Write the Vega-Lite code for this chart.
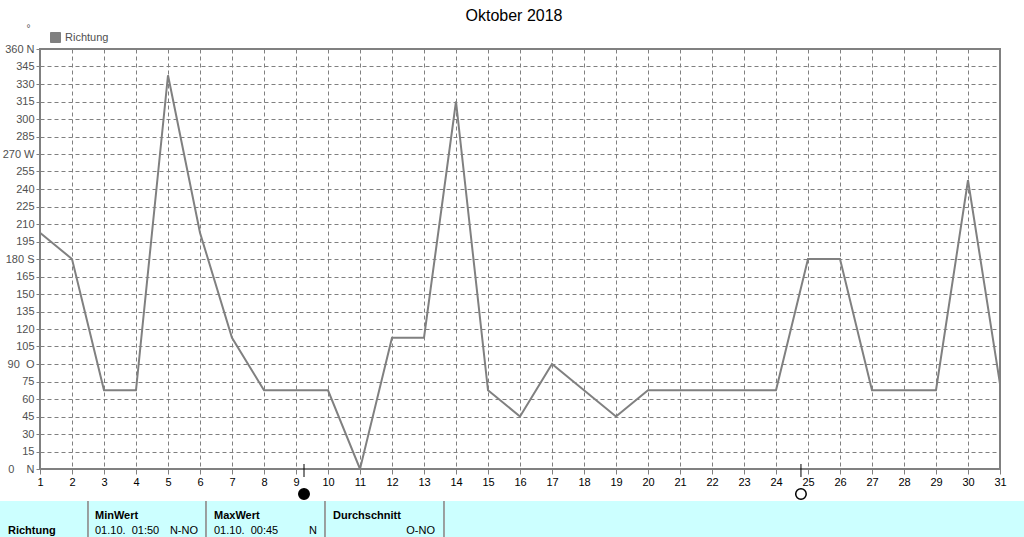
{
  "$schema": "https://vega.github.io/schema/vega-lite/v6.json",
  "background": "white",
  "padding": {"top": 8, "left": 0, "right": 0, "bottom": 0},
  "title": {"text": "Oktober 2018", "fontSize": 16, "font": "Liberation Sans", "fontWeight": "normal", "color": "black", "anchor": "middle", "offset": -2},
  "spacing": -4,
  "align": "none",
  "datasets": {
    "richtung": [
      {"day": 1, "deg": 202.5}, {"day": 2, "deg": 180}, {"day": 3, "deg": 67.5}, {"day": 4, "deg": 67.5},
      {"day": 5, "deg": 337.5}, {"day": 6, "deg": 202.5}, {"day": 7, "deg": 112.5}, {"day": 8, "deg": 67.5},
      {"day": 9, "deg": 67.5}, {"day": 10, "deg": 67.5}, {"day": 11, "deg": 0}, {"day": 12, "deg": 112.5},
      {"day": 13, "deg": 112.5}, {"day": 14, "deg": 315}, {"day": 15, "deg": 67.5}, {"day": 16, "deg": 45},
      {"day": 17, "deg": 90}, {"day": 18, "deg": 67.5}, {"day": 19, "deg": 45}, {"day": 20, "deg": 67.5},
      {"day": 21, "deg": 67.5}, {"day": 22, "deg": 67.5}, {"day": 23, "deg": 67.5}, {"day": 24, "deg": 67.5},
      {"day": 25, "deg": 180}, {"day": 26, "deg": 180}, {"day": 27, "deg": 67.5}, {"day": 28, "deg": 67.5},
      {"day": 29, "deg": 67.5}, {"day": 30, "deg": 247.5}, {"day": 31, "deg": 73}
    ],
    "mond": [{"day": 9.25, "phase": "Neumond"}, {"day": 24.78, "phase": "Vollmond"}],
    "tabelle": [
      {"col": "Richtung", "kind": "label", "row": "unten", "text": "Richtung"},
      {"col": "MinWert", "kind": "header", "row": "oben", "text": "MinWert"},
      {"col": "MinWert", "kind": "time", "row": "unten", "text": "01.10.\u00a0\u00a001:50"},
      {"col": "MinWert", "kind": "dir", "row": "unten", "text": "N-NO"},
      {"col": "MaxWert", "kind": "header", "row": "oben", "text": "MaxWert"},
      {"col": "MaxWert", "kind": "time", "row": "unten", "text": "01.10.\u00a0\u00a000:45"},
      {"col": "MaxWert", "kind": "dir", "row": "unten", "text": "N"},
      {"col": "Durchschnitt", "kind": "header", "row": "oben", "text": "Durchschnitt"},
      {"col": "Durchschnitt", "kind": "dir", "row": "unten", "text": "O-NO"}
    ]
  },
  "vconcat": [
    {
      "width": 960,
      "height": 420,
      "view": {"stroke": "#808080", "strokeWidth": 2},
      "layer": [
        {
          "data": {"name": "richtung"},
          "mark": {"type": "line", "strokeWidth": 2, "clip": true},
          "encoding": {
            "x": {
              "field": "day", "type": "quantitative",
              "scale": {"domain": [1, 31], "nice": false, "zero": false},
              "axis": {
                "values": [1,2,3,4,5,6,7,8,9,10,11,12,13,14,15,16,17,18,19,20,21,22,23,24,25,26,27,28,29,30,31],
                "tickCount": 100,
                "format": "d", "title": null, "grid": true, "gridColor": "#808080", "gridDash": [4, 3], "gridOpacity": 1, "gridWidth": 1,
                "domain": false, "ticks": true, "tickColor": "#808080", "tickSize": 5, "tickWidth": 1,
                "labelFont": "Liberation Sans", "labelFontSize": 11, "labelColor": "black", "labelPadding": 2,
                "labelFlush": false, "labelOverlap": false
              }
            },
            "y": {
              "field": "deg", "type": "quantitative",
              "scale": {"domain": [0, 360], "nice": false, "zero": true},
              "axis": {
                "values": [0,15,30,45,60,75,90,105,120,135,150,165,180,195,210,225,240,255,270,285,300,315,330,345,360],
                "tickCount": 100,
                "labelExpr": "datum.value == 360 ? '360 N' : datum.value == 270 ? '\u00a0270 W' : datum.value == 180 ? '180 S' : datum.value == 90 ? '90\u00a0\u00a0O' : datum.value == 0 ? '0\u00a0\u00a0\u00a0\u00a0N' : datum.label",
                "grid": true, "gridColor": "#808080", "gridDash": [4, 3], "gridOpacity": 1, "gridWidth": 1,
                "domain": false, "ticks": true, "tickColor": "#808080", "tickSize": 4, "tickWidth": 1,
                "labelFont": "Liberation Sans", "labelFontSize": 11, "labelColor": "#505050", "labelPadding": 2,
                "labelFlush": false, "labelOverlap": false,
                "title": "°", "titleAngle": 0, "titleX": -12, "titleY": -16, "titleFontSize": 10, "titleFontWeight": "normal", "titleColor": "#505050", "titleFont": "Liberation Sans"
              }
            },
            "color": {
              "datum": "Richtung", "type": "nominal",
              "scale": {"range": ["#808080"]},
              "legend": {
                "orient": "none", "legendX": 10, "legendY": -17, "title": null, "padding": 0,
                "symbolType": "square", "symbolSize": 100, "symbolFillColor": "#808080", "symbolStrokeColor": "black", "symbolStrokeWidth": 1,
                "labelFont": "Liberation Sans", "labelFontSize": 11, "labelColor": "#505050", "labelOffset": 4,
                "encode": {"symbols": {"update": {"fill": {"value": "#808080"}, "stroke": {"value": "black"}, "strokeWidth": {"value": 1}}}}
              }
            }
          }
        },
        {
          "data": {"name": "mond"},
          "mark": {"type": "tick", "orient": "vertical", "size": 13, "thickness": 1, "color": "black", "opacity": 1, "yOffset": 1.5},
          "encoding": {
            "x": {"field": "day", "type": "quantitative"},
            "y": {"datum": 0, "type": "quantitative"}
          }
        },
        {
          "data": {"name": "mond"},
          "mark": {"type": "point", "shape": "circle", "size": 110, "filled": true, "stroke": "black", "strokeWidth": 1.5, "opacity": 1, "yOffset": 25},
          "encoding": {
            "x": {"field": "day", "type": "quantitative"},
            "y": {"datum": 0, "type": "quantitative"},
            "fill": {"field": "phase", "type": "nominal", "scale": {"domain": ["Neumond", "Vollmond"], "range": ["black", "white"]}, "legend": null}
          }
        }
      ]
    },
    {
      "spacing": 0,
      "hconcat": [
        {
          "width": 48, "height": 37,
          "view": {"stroke": null},
          "layer": [
            {"data": {"values": [{}]}, "mark": {"type": "rect", "color": "#ccffff", "opacity": 1},
             "encoding": {
               "x": {"datum": 0, "type": "quantitative", "scale": {"domain": [0, 1], "range": [-40, 48]}, "axis": null},
               "x2": {"datum": 1}
             }},
            {"data": {"values": [{}]}, "mark": {"type": "rule", "color": "#808080", "strokeWidth": 1.5},
             "encoding": {"x": {"datum": 1, "type": "quantitative"}}},
            {"data": {"name": "tabelle"}, "transform": [{"filter": "datum.col == 'Richtung'"}],
             "mark": {"type": "text", "align": "left", "dx": 8, "font": "Liberation Sans", "fontSize": 11, "fontWeight": "bold", "color": "black"},
             "encoding": {
               "x": {"datum": 0, "type": "quantitative"},
               "y": {"field": "row", "type": "ordinal", "scale": {"type": "point", "domain": ["oben", "unten"], "range": [15, 30], "padding": 0}, "axis": null},
               "text": {"field": "text"}
             }}
          ]
        },
        {
          "width": 117, "height": 37,
          "view": {"fill": "#ccffff", "stroke": null},
          "layer": [
            {"data": {"values": [{}]}, "mark": {"type": "rule", "color": "#808080", "strokeWidth": 1.5},
             "encoding": {"x": {"datum": 1, "type": "quantitative", "scale": {"domain": [0, 1]}, "axis": null}}},
            {"data": {"name": "tabelle"}, "transform": [{"filter": "datum.col == 'MinWert' && datum.kind == 'header'"}],
             "mark": {"type": "text", "align": "left", "dx": 6, "font": "Liberation Sans", "fontSize": 11, "fontWeight": "bold", "color": "black"},
             "encoding": {
               "x": {"datum": 0, "type": "quantitative", "scale": {"domain": [0, 1]}, "axis": null},
               "y": {"field": "row", "type": "ordinal", "scale": {"type": "point", "domain": ["oben", "unten"], "range": [15, 30], "padding": 0}, "axis": null},
               "text": {"field": "text"}
             }},
            {"data": {"name": "tabelle"}, "transform": [{"filter": "datum.col == 'MinWert' && datum.kind == 'time'"}],
             "mark": {"type": "text", "align": "left", "dx": 6, "font": "Liberation Sans", "fontSize": 11, "color": "black"},
             "encoding": {
               "x": {"datum": 0, "type": "quantitative", "scale": {"domain": [0, 1]}, "axis": null},
               "y": {"field": "row", "type": "ordinal", "scale": {"type": "point", "domain": ["oben", "unten"], "range": [15, 30], "padding": 0}, "axis": null},
               "text": {"field": "text"}
             }},
            {"data": {"name": "tabelle"}, "transform": [{"filter": "datum.col == 'MinWert' && datum.kind == 'dir'"}],
             "mark": {"type": "text", "align": "right", "dx": -8, "font": "Liberation Sans", "fontSize": 11, "color": "black"},
             "encoding": {
               "x": {"datum": 1, "type": "quantitative", "scale": {"domain": [0, 1]}, "axis": null},
               "y": {"field": "row", "type": "ordinal", "scale": {"type": "point", "domain": ["oben", "unten"], "range": [15, 30], "padding": 0}, "axis": null},
               "text": {"field": "text"}
             }}
          ]
        },
        {
          "width": 118, "height": 37,
          "view": {"fill": "#ccffff", "stroke": null},
          "layer": [
            {"data": {"values": [{}]}, "mark": {"type": "rule", "color": "#808080", "strokeWidth": 1.5},
             "encoding": {"x": {"datum": 1, "type": "quantitative", "scale": {"domain": [0, 1]}, "axis": null}}},
            {"data": {"name": "tabelle"}, "transform": [{"filter": "datum.col == 'MaxWert' && datum.kind == 'header'"}],
             "mark": {"type": "text", "align": "left", "dx": 7, "font": "Liberation Sans", "fontSize": 11, "fontWeight": "bold", "color": "black"},
             "encoding": {
               "x": {"datum": 0, "type": "quantitative", "scale": {"domain": [0, 1]}, "axis": null},
               "y": {"field": "row", "type": "ordinal", "scale": {"type": "point", "domain": ["oben", "unten"], "range": [15, 30], "padding": 0}, "axis": null},
               "text": {"field": "text"}
             }},
            {"data": {"name": "tabelle"}, "transform": [{"filter": "datum.col == 'MaxWert' && datum.kind == 'time'"}],
             "mark": {"type": "text", "align": "left", "dx": 7, "font": "Liberation Sans", "fontSize": 11, "color": "black"},
             "encoding": {
               "x": {"datum": 0, "type": "quantitative", "scale": {"domain": [0, 1]}, "axis": null},
               "y": {"field": "row", "type": "ordinal", "scale": {"type": "point", "domain": ["oben", "unten"], "range": [15, 30], "padding": 0}, "axis": null},
               "text": {"field": "text"}
             }},
            {"data": {"name": "tabelle"}, "transform": [{"filter": "datum.col == 'MaxWert' && datum.kind == 'dir'"}],
             "mark": {"type": "text", "align": "right", "dx": -8, "font": "Liberation Sans", "fontSize": 11, "color": "black"},
             "encoding": {
               "x": {"datum": 1, "type": "quantitative", "scale": {"domain": [0, 1]}, "axis": null},
               "y": {"field": "row", "type": "ordinal", "scale": {"type": "point", "domain": ["oben", "unten"], "range": [15, 30], "padding": 0}, "axis": null},
               "text": {"field": "text"}
             }}
          ]
        },
        {
          "width": 118, "height": 37,
          "view": {"fill": "#ccffff", "stroke": null},
          "layer": [
            {"data": {"values": [{}]}, "mark": {"type": "rule", "color": "#808080", "strokeWidth": 1.5},
             "encoding": {"x": {"datum": 1, "type": "quantitative", "scale": {"domain": [0, 1]}, "axis": null}}},
            {"data": {"name": "tabelle"}, "transform": [{"filter": "datum.col == 'Durchschnitt' && datum.kind == 'header'"}],
             "mark": {"type": "text", "align": "left", "dx": 7, "font": "Liberation Sans", "fontSize": 11, "fontWeight": "bold", "color": "black"},
             "encoding": {
               "x": {"datum": 0, "type": "quantitative", "scale": {"domain": [0, 1]}, "axis": null},
               "y": {"field": "row", "type": "ordinal", "scale": {"type": "point", "domain": ["oben", "unten"], "range": [15, 30], "padding": 0}, "axis": null},
               "text": {"field": "text"}
             }},
            {"data": {"name": "tabelle"}, "transform": [{"filter": "datum.col == 'Durchschnitt' && datum.kind == 'dir'"}],
             "mark": {"type": "text", "align": "right", "dx": -9, "font": "Liberation Sans", "fontSize": 11, "color": "black"},
             "encoding": {
               "x": {"datum": 1, "type": "quantitative", "scale": {"domain": [0, 1]}, "axis": null},
               "y": {"field": "row", "type": "ordinal", "scale": {"type": "point", "domain": ["oben", "unten"], "range": [15, 30], "padding": 0}, "axis": null},
               "text": {"field": "text"}
             }}
          ]
        },
        {
          "width": 583, "height": 37,
          "view": {"fill": "#ccffff", "stroke": null},
          "data": {"values": []},
          "mark": {"type": "point"},
          "encoding": {}
        }
      ]
    }
  ]
}
